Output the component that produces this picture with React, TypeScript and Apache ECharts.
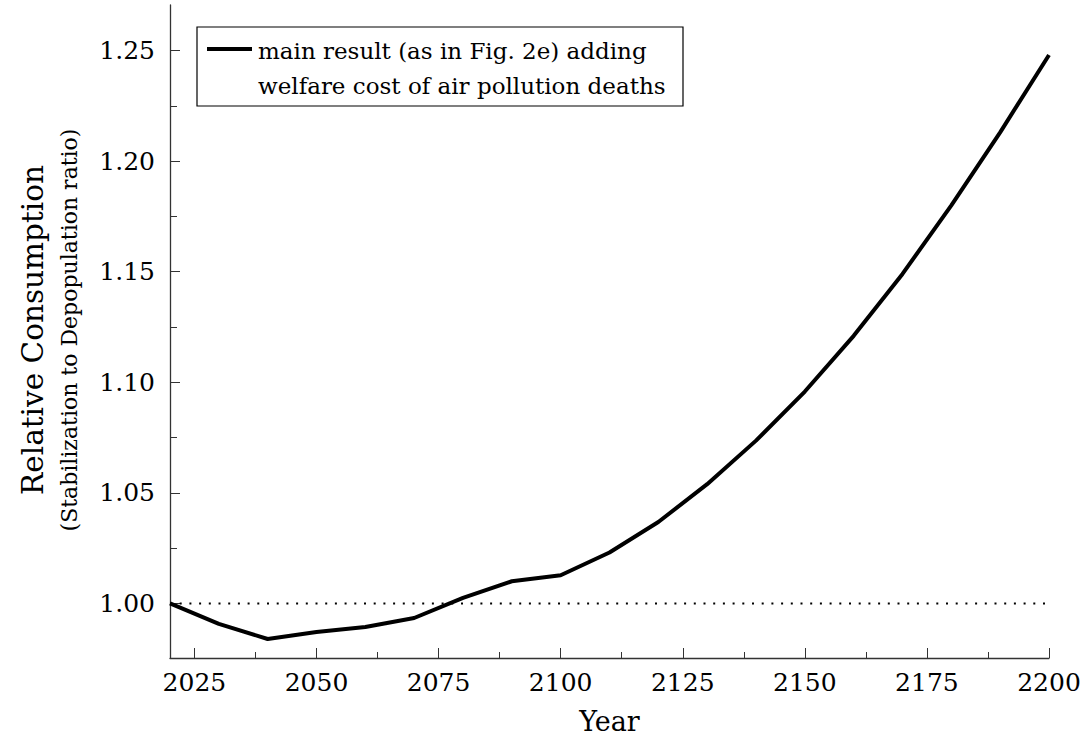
import React, { useEffect, useRef } from "react";
import * as echarts from "echarts";

// Simulation years and the stabilization-to-depopulation consumption ratio
const years = [2020, 2030, 2040, 2050, 2060, 2070, 2080, 2090, 2100, 2110, 2120, 2130, 2140, 2150, 2160, 2170, 2180, 2190, 2200];
const ratio = [1.0, 0.9907, 0.9839, 0.9871, 0.9893, 0.9934, 1.0025, 1.01, 1.0127, 1.023, 1.0368, 1.0539, 1.0736, 1.0958, 1.121, 1.149, 1.18, 1.213, 1.248];

// Axis ticks
const xMajorTicks = [2025, 2050, 2075, 2100, 2125, 2150, 2175, 2200];
const xMinorTicks = [2037.5, 2062.5, 2087.5, 2112.5, 2137.5, 2162.5, 2187.5];
const yMajorTicks = [1.0, 1.05, 1.1, 1.15, 1.2, 1.25];
const yMinorTicks = [1.025, 1.075, 1.125, 1.175, 1.225];

const seriesName = "main result (as in Fig. 2e) adding welfare cost of air pollution deaths";
const legendLines = ["main result (as in Fig. 2e) adding", "welfare cost of air pollution deaths"];

const X_MIN = 2020;
const X_MAX = 2200;
const Y_MIN = 0.9753;
const Y_MAX = 1.2706;

const numFont = "DejaVu Serif";
const textFont = "DejaVu Serif";
const axisColor = "#333";

export default function App() {
  const ref = useRef<HTMLDivElement>(null);

  useEffect(() => {
    if (!ref.current) return;
    const chart = echarts.init(ref.current, undefined, { renderer: "svg" });

    const baseX = {
      type: "value" as const,
      min: X_MIN,
      max: X_MAX,
      position: "bottom" as const,
      splitLine: { show: false },
    };
    const baseY = {
      type: "value" as const,
      min: Y_MIN,
      max: Y_MAX,
      position: "left" as const,
      splitLine: { show: false },
    };

    chart.setOption({
      animation: false,
      backgroundColor: "#fff",
      grid: { left: 170, right: 35, top: 5, bottom: 81, containLabel: false },
      xAxis: [
        {
          ...baseX,
          name: "Year",
          nameLocation: "middle",
          nameGap: 50,
          nameTextStyle: { fontFamily: textFont, fontSize: 27, color: "#000" },
          axisLine: { show: true, lineStyle: { color: axisColor, width: 1.3 } },
          axisTick: { show: true, inside: true, length: 10, customValues: xMajorTicks, lineStyle: { color: axisColor, width: 1 } },
          axisLabel: {
            show: true,
            customValues: xMajorTicks,
            margin: 12,
            fontFamily: numFont,
            fontSize: 25,
            color: "#000",
            formatter: (v: number) => String(v),
          },
        },
        {
          ...baseX,
          axisLine: { show: false },
          axisTick: { show: true, inside: true, length: 6, customValues: xMinorTicks, lineStyle: { color: axisColor, width: 1 } },
          axisLabel: { show: false },
        },
      ],
      yAxis: [
        {
          ...baseY,
          axisLine: { show: true, lineStyle: { color: axisColor, width: 1.3 } },
          axisTick: { show: true, inside: true, length: 10, customValues: yMajorTicks, lineStyle: { color: axisColor, width: 1 } },
          axisLabel: {
            show: true,
            customValues: yMajorTicks,
            margin: 15,
            fontFamily: numFont,
            fontSize: 25,
            color: "#000",
            formatter: (v: number) => v.toFixed(2),
          },
        },
        {
          ...baseY,
          axisLine: { show: false },
          axisTick: { show: true, inside: true, length: 7, customValues: yMinorTicks, lineStyle: { color: axisColor, width: 1 } },
          axisLabel: { show: false },
        },
      ],
      series: [
        {
          name: "reference",
          type: "line",
          xAxisIndex: 0,
          yAxisIndex: 0,
          data: [
            [X_MIN, 1],
            [X_MAX, 1],
          ],
          symbol: "none",
          silent: true,
          lineStyle: { color: "#000", width: 2, type: [2, 7.7], cap: "butt" },
        },
        {
          name: seriesName,
          type: "line",
          xAxisIndex: 0,
          yAxisIndex: 0,
          data: years.map((y, i) => [y, ratio[i]]),
          symbol: "none",
          lineStyle: { color: "#000", width: 4, join: "round" },
        },
      ],
      graphic: [
        {
          type: "text",
          rotation: Math.PI / 2,
          x: 33,
          y: 330,
          style: {
            text: "Relative Consumption",
            fontFamily: textFont,
            fontSize: 29.5,
            fill: "#000",
            align: "center",
            verticalAlign: "middle",
          },
        },
        {
          type: "text",
          rotation: Math.PI / 2,
          x: 69,
          y: 330,
          style: {
            text: "(Stabilization to Depopulation ratio)",
            fontFamily: textFont,
            fontSize: 22,
            fill: "#000",
            align: "center",
            verticalAlign: "middle",
          },
        },
        {
          type: "rect",
          shape: { x: 197, y: 27, width: 486, height: 79 },
          style: { fill: "#fff", stroke: "#000", lineWidth: 1.2 },
          z: 10,
        },
        {
          type: "line",
          shape: { x1: 207, y1: 49, x2: 252, y2: 49 },
          style: { stroke: "#000", lineWidth: 4 },
          z: 11,
        },
        {
          type: "text",
          x: 258,
          y: 51,
          style: {
            text: legendLines[0],
            fontFamily: textFont,
            fontSize: 23,
            fill: "#000",
            align: "left",
            verticalAlign: "middle",
          },
          z: 11,
        },
        {
          type: "text",
          x: 258,
          y: 86,
          style: {
            text: legendLines[1],
            fontFamily: textFont,
            fontSize: 23,
            fill: "#000",
            align: "left",
            verticalAlign: "middle",
          },
          z: 11,
        },
      ],
    });

    return () => chart.dispose();
  }, []);

  return (
    <div
      ref={ref}
      style={{ position: "fixed", left: 0, top: 0, width: 1084, height: 740, background: "#fff" }}
    />
  );
}
